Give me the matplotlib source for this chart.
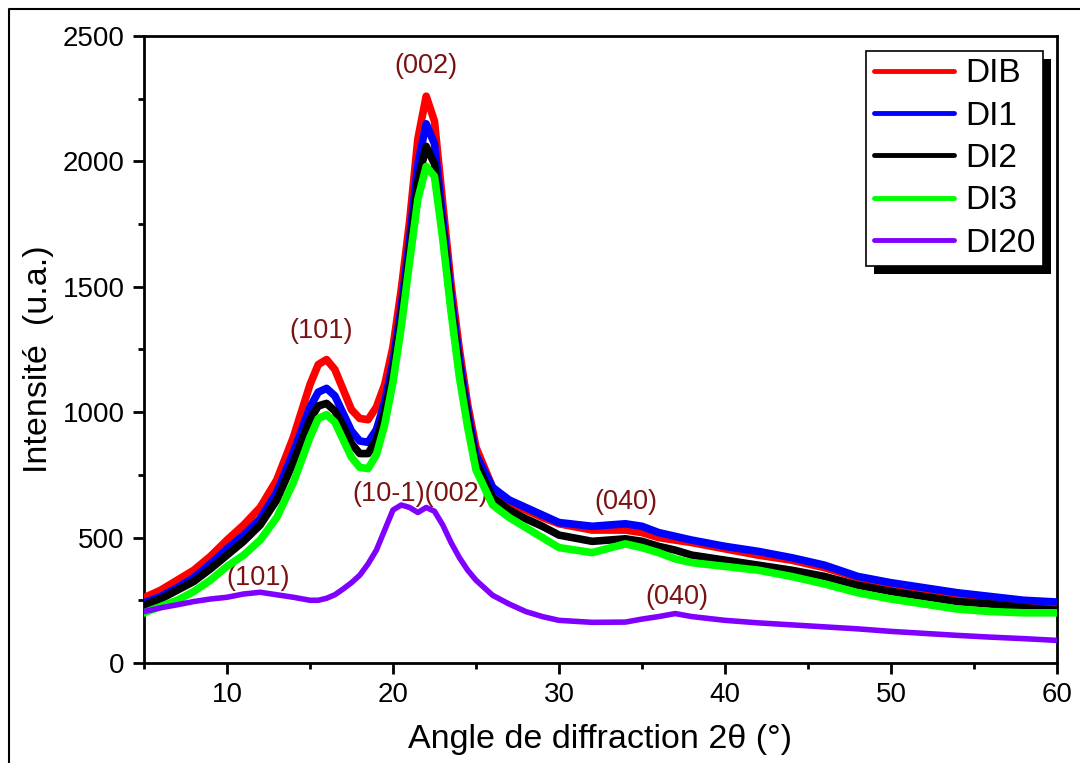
import matplotlib
matplotlib.use('Agg')
import matplotlib.pyplot as plt
from matplotlib.ticker import MultipleLocator
from matplotlib.patches import Rectangle
from matplotlib.lines import Line2D
from matplotlib.transforms import IdentityTransform

plt.rcParams['font.family'] = ['Liberation Sans', 'DejaVu Sans']

# diffraction angle 2theta (deg)
two_theta = [5, 6, 7, 8, 9, 10, 11, 12, 13, 14, 15, 15.5, 16, 16.5, 17, 17.5,
             18, 18.5, 19, 19.5, 20, 20.5, 21, 21.5, 22, 22.5, 23, 23.5, 24,
             24.5, 25, 26, 27, 28, 29, 30, 32, 34, 35, 36, 37, 38, 40, 42, 44,
             46, 48, 50, 52, 54, 56, 58, 60]

dib = [260, 290, 330, 370, 425, 490, 550, 620, 730, 900, 1110, 1190, 1210, 1170,
       1090, 1010, 975, 970, 1020, 1110, 1260, 1490, 1760, 2090, 2260, 2160,
       1830, 1510, 1250, 1030, 860, 700, 640, 610, 580, 555, 530, 530, 520,
       500, 490, 480, 455, 430, 410, 380, 340, 310, 290, 275, 260, 245, 230]
di1 = [240, 265, 300, 340, 395, 455, 510, 575, 680, 840, 1020, 1080, 1095, 1065,
       995, 925, 885, 880, 930, 1040, 1200, 1420, 1690, 1990, 2150, 2070, 1770,
       1460, 1210, 1000, 830, 700, 650, 620, 590, 560, 545, 555, 545, 520, 505,
       490, 465, 445, 420, 390, 345, 320, 300, 280, 265, 250, 243]
di2 = [230, 255, 290, 325, 375, 430, 485, 550, 650, 800, 970, 1025, 1035, 1005,
       945, 875, 835, 835, 890, 1000, 1160, 1380, 1640, 1920, 2060, 1990, 1720,
       1420, 1170, 970, 800, 660, 610, 575, 545, 510, 485, 495, 485, 465, 450,
       430, 410, 390, 370, 345, 310, 285, 265, 245, 235, 220, 210]
di3 = [200, 225, 250, 285, 330, 385, 430, 490, 580, 720, 900, 975, 990, 960, 890,
       820, 780, 775, 830, 950, 1120, 1340, 1600, 1850, 1980, 1940, 1690, 1400,
       1140, 940, 770, 630, 580, 540, 500, 460, 440, 475, 460, 440, 415, 400,
       385, 370, 345, 315, 280, 255, 235, 215, 205, 200, 200]
di20 = [205, 220, 232, 245, 255, 262, 275, 282, 272, 262, 250, 250, 258, 272,
        295, 320, 350, 395, 450, 530, 610, 630, 620, 600, 620, 605, 550, 480,
        420, 370, 330, 270, 235, 205, 185, 170, 162, 163, 175, 185, 197, 185,
        170, 160, 152, 144, 136, 126, 118, 110, 103, 97, 90]

series = [('DIB', dib, '#ff0000', 5.5),
          ('DI1', di1, '#0000ff', 5.5),
          ('DI2', di2, '#000000', 5.5),
          ('DI3', di3, '#00ff00', 5.5),
          ('DI20', di20, '#8000ff', 4.0)]

# peak labels: text, 2theta, intensity
peaks = [('(002)', 22.0, 2380),
         ('(101)', 15.7, 1325),
         ('(10-1)(002)', 21.65, 674),
         ('(101)', 11.9, 340),
         ('(040)', 34.0, 642),
         ('(040)', 37.1, 263)]

fig = plt.figure(figsize=(10.8, 7.63), dpi=100)
ax = fig.add_axes([0.1333, 0.1311, 0.8454, 0.8217])

for name, vals, col, lw in series:
    ax.plot(two_theta, vals, color=col, lw=lw, label=name, zorder=3,
            solid_joinstyle='round')

for txt, px, py in peaks:
    ax.text(px, py, txt, color='#7a1212', fontsize=19.5, ha='center',
            va='center', zorder=2)

ax.set_xlim(5, 60)
ax.set_ylim(0, 2500)
ax.xaxis.set_major_locator(MultipleLocator(10))
ax.xaxis.set_minor_locator(MultipleLocator(5))
ax.yaxis.set_major_locator(MultipleLocator(500))
ax.yaxis.set_minor_locator(MultipleLocator(250))
ax.tick_params(which='major', direction='out', length=8, width=2,
               labelsize=20, pad=6)
ax.tick_params(which='minor', direction='out', length=4.5, width=2)
for sp in ax.spines.values():
    sp.set_linewidth(2)

ax.set_xlabel('Angle de diffraction 2\u03b8 (\u00b0)', fontsize=24.5)
ax.set_ylabel('Intensit\u00e9  (u.a.)', fontsize=24.5)
ax.xaxis.set_label_coords(0.4995, -0.098)
ax.yaxis.set_label_coords(-0.098, 0.485)

leg = ax.legend(loc='upper right', bbox_to_anchor=(0.9847, 0.976),
                borderaxespad=0, fontsize=24, fancybox=False, framealpha=1,
                edgecolor='black', handlelength=2.4, handletextpad=0.35,
                labelspacing=0.34, borderpad=0.22)
leg.get_frame().set_linewidth(1.2)
leg.set_zorder(6)
for h in leg.get_lines():
    h.set_linewidth(3.5)
    h.set_solid_capstyle('round')

# black drop shadow behind the legend box
fig.canvas.draw()
bb = leg.get_window_extent()
shadow = Rectangle((bb.x0 + 8, bb.y0 - 8), bb.width, bb.height,
                   transform=IdentityTransform(), facecolor='black',
                   edgecolor='none', zorder=5.5, clip_on=False)
ax.add_patch(shadow)

# outer frame of the figure
fx, fy = 9 / 1080, 1 - 9 / 763
fig.add_artist(Line2D([fx, fx, 1], [0, fy, fy], color='black', lw=1.5))

fig.savefig('out.png', dpi=100)
